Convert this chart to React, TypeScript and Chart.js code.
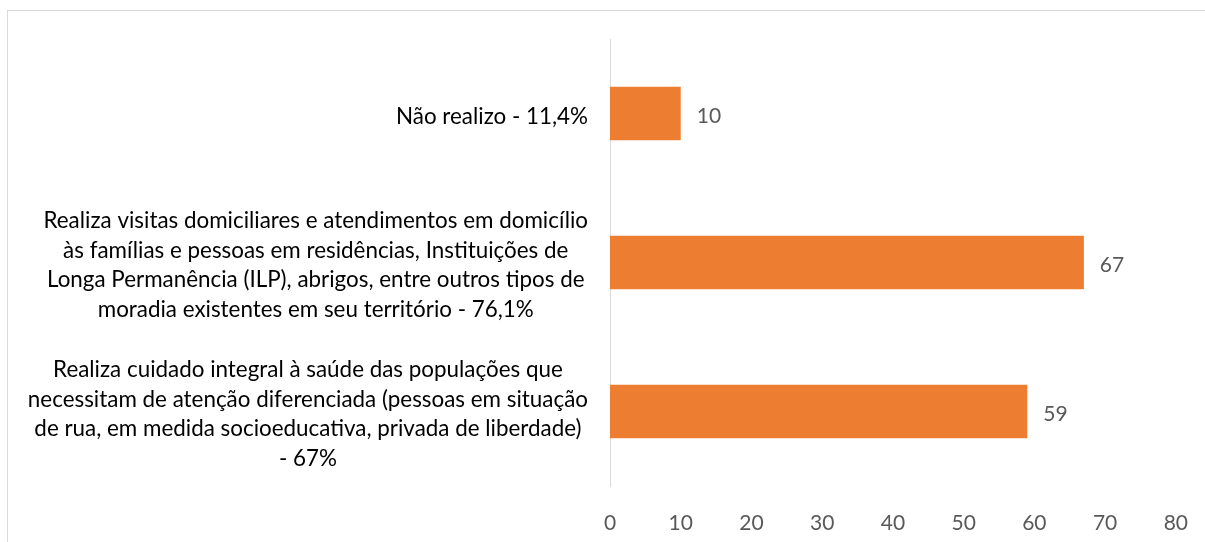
import React, { useEffect, useRef } from "react";
import { Chart, registerables } from "chart.js";

Chart.register(...registerables);

const categories: string[][] = [
  ["Não realizo - 11,4%"],
  [
    "Realiza visitas domiciliares e atendimentos em domicílio",
    "às famílias e pessoas em residências, Instituições de",
    "Longa Permanência (ILP), abrigos, entre outros tipos de",
    "moradia existentes em seu território - 76,1%",
  ],
  [
    "Realiza cuidado integral à saúde das populações que",
    "necessitam de atenção diferenciada (pessoas em situação",
    "de rua, em medida socioeducativa, privada de liberdade)",
    "- 67%",
  ],
];
const values: number[] = [10, 67, 59];
const xTicks: number[] = [0, 10, 20, 30, 40, 50, 60, 70, 80];

const FONT = "Lato, 'Liberation Sans', sans-serif";

const labelPlugin = {
  id: "customLabels",
  afterDatasetsDraw(chart: any) {
    const ctx = chart.ctx;
    const yScale = chart.scales.y;
    const meta = chart.getDatasetMeta(0);
    ctx.save();
    // category labels
    ctx.font = `22.4px ${FONT}`;
    ctx.fillStyle = "#000000";
    ctx.textAlign = "center";
    ctx.textBaseline = "middle";
    const right = chart.chartArea.left - 22;
    const lh = 29.5;
    categories.forEach((lines, i) => {
      const yc = yScale.getPixelForValue(i) + 3;
      const w = Math.max(...lines.map((l) => ctx.measureText(l).width));
      const cx = right - w / 2;
      lines.forEach((l, j) => {
        const y = yc + (j - (lines.length - 1) / 2) * lh;
        ctx.fillText(l, cx, y);
      });
    });
    // data labels
    ctx.font = `21px ${FONT}`;
    ctx.fillStyle = "#595959";
    ctx.textAlign = "left";
    meta.data.forEach((bar: any, i: number) => {
      ctx.fillText(String(values[i]), bar.x + 16, bar.y + 3);
    });
    ctx.restore();
  },
};

export default function App() {
  const ref = useRef<HTMLCanvasElement>(null);
  useEffect(() => {
    document.body.style.margin = "0";
    const chart = new Chart(ref.current!, {
      type: "bar",
      data: {
        labels: categories.map((c) => c.join(" ")),
        datasets: [
          {
            data: values,
            backgroundColor: "#ED7D31",
            categoryPercentage: 1,
            barPercentage: 0.36,
          },
        ],
      },
      options: {
        indexAxis: "y",
        animation: false,
        responsive: false,
        maintainAspectRatio: false,
        layout: { padding: { top: 39, right: 20, left: 0, bottom: 0 } },
        plugins: { legend: { display: false }, tooltip: { enabled: false } },
        scales: {
          x: {
            min: 0,
            max: 80,
            afterBuildTicks: (s: any) => {
              s.ticks = xTicks.map((v) => ({ value: v }));
            },
            grid: { display: false },
            border: { display: false },
            ticks: {
              color: "#595959",
              font: { family: FONT, size: 21 },
              padding: 17,
            },
            afterFit: (s: any) => {
              s.height = 542 - 486;
            },
          },
          y: {
            grid: { display: false },
            border: { display: true, color: "#d9d9d9", width: 1 },
            ticks: { display: false },
            afterFit: (s: any) => {
              s.width = 610;
            },
          },
        },
      },
      plugins: [labelPlugin],
    });
    return () => chart.destroy();
  }, []);
  return (
    <div style={{ position: "relative", width: 1205, height: 542, background: "#fff", overflow: "hidden" }}>
      <div
        style={{
          position: "absolute",
          left: 7,
          top: 10,
          width: 1300,
          height: 600,
          borderTop: "1px solid #d9d9d9",
          borderLeft: "1px solid #d9d9d9",
        }}
      />
      <canvas ref={ref} width={1205} height={542} style={{ position: "absolute", left: 0, top: 0 }} />
    </div>
  );
}
